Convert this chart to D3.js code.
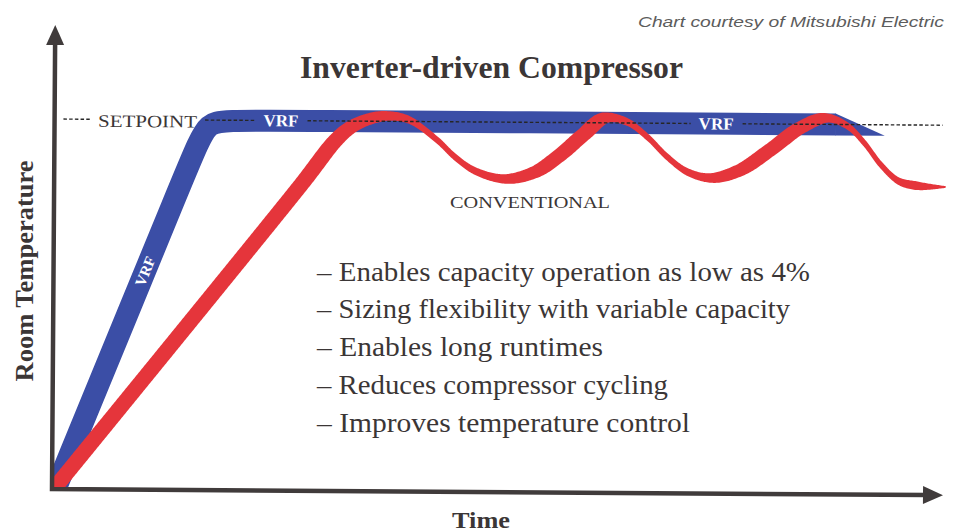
<!DOCTYPE html>
<html>
<head>
<meta charset="utf-8">
<script src="https://cdn.jsdelivr.net/npm/d3@7"></script>
<style>
  html, body { margin: 0; padding: 0; background: #ffffff; }
  svg { display: block; }
</style>
</head>
<body>
<svg id="chart" width="954" height="532"></svg>
<script>
// Elapsed time runs 0–100, room temperature is in % of the setpoint (100 = setpoint).
// VRF (inverter) system: climbs quickly, then holds the setpoint.
const vrfTime = [0.4, 15.5, 17.2, 20.2, 88.0];
const vrfTemp = [0, 90, 100, 100, 100];
const vrfTaperTime = 93.5;

// Conventional on/off system: slower climb, then cycles around the setpoint.
const convTime = [0.2, 27.69, 31.71, 33.42, 35.44, 37.47, 39.94, 43.09, 45.12, 47.39, 50.77, 54.14, 56.95, 59.52,
                  61.98, 64.49, 66.76, 69.03, 71.31, 74.01, 77.23, 80.59, 83.95, 86.87, 89.28, 91.20, 93.10, 95.09, 97.35, 100.51];
const convTemp = [0, 82.35, 94.86, 98.41, 100.59, 101.46, 100.41, 95.05, 90.49, 86.76, 84.65, 86.59, 91.24, 96.68,
                  101.32, 100.27, 96.27, 90.89, 86.89, 85.30, 87.51, 92.97, 98.97, 101.73, 99.62, 95.05, 89.14, 84.84, 83.54, 83.32];

const setpointTemp = 100;
const setpointSpan = [1.0, 100.0];
const setpointLabelTime = 4.9;
const vrfLabelTimes = [25.5, 74.5];
const vrfSlopeLabelTemp = 59;

const benefits = [
  "– Enables capacity operation as low as 4%",
  "– Sizing flexibility with variable capacity",
  "– Enables long runtimes",
  "– Reduces compressor cycling",
  "– Improves temperature control"
];
const benefitWidths = [493, 473, 286, 351, 373];

const titleText = "Inverter-driven Compressor";
const creditText = "Chart courtesy of Mitsubishi Electric";
const yTitle = "Room Temperature";
const xTitle = "Time";

// ---- layout ----
const svg = d3.select("#chart");
const blue = "#3b4ea6", red = "#e5353b", ink = "#3b3636", axisInk = "#403b3b";
const serif = "'Liberation Serif', 'Times New Roman', serif";

const x = d3.scaleLinear().domain([0, 100]).range([52, 940]);
const y = d3.scaleLinear().domain([0, 100]).range([489, 119]);
const xAxisEnd = 100.34;   // arrow tip, time units
const yAxisEnd = 125.4;    // arrow tip, temperature units

const plot = svg.append("g").attr("transform", `rotate(0.4, ${x(0)}, ${y(0)})`);

plot.append("defs").append("clipPath").attr("id", "plotClip")
  .append("rect")
  .attr("x", x(0)).attr("y", y(130))
  .attr("width", x(110) - x(0)).attr("height", y(0) - y(130));

const curves = plot.append("g").attr("clip-path", "url(#plotClip)");

// VRF band
const bandW = 22;
const vrfData = vrfTime.map((t, i) => [t, vrfTemp[i]]);
curves.append("path")
  .attr("d", d3.line().x(d => x(d[0])).y(d => y(d[1])).curve(d3.curveBasis)(vrfData))
  .attr("fill", "none").attr("stroke", blue)
  .attr("stroke-width", bandW).attr("stroke-linecap", "butt");

const tEnd = vrfTime[vrfTime.length - 1];
const yS = y(setpointTemp);
curves.append("path")
  .attr("d", `M${x(tEnd) - 0.5},${yS - bandW / 2}L${x(vrfTaperTime)},${yS + bandW / 2}L${x(tEnd) - 0.5},${yS + bandW / 2}Z`)
  .attr("fill", blue);

// Conventional ribbon: width varies with direction so it reads as a twisting ribbon
const convData = convTime.map((t, i) => [t, convTemp[i]]);
const guide = curves.append("path")
  .attr("d", d3.line().x(d => x(d[0])).y(d => y(d[1])).curve(d3.curveCatmullRom.alpha(0.5))(convData))
  .attr("fill", "none").attr("stroke", "none");
const gNode = guide.node();
const total = gNode.getTotalLength();
const leftSide = [], rightSide = [];
for (let s = 0; s <= total + 0.01; s += 1.2) {
  const sc = Math.min(s, total);
  const p = gNode.getPointAtLength(sc);
  const a = gNode.getPointAtLength(Math.max(sc - 2, 0));
  const b = gNode.getPointAtLength(Math.min(sc + 2, total));
  let tx = b.x - a.x, ty = b.y - a.y;
  const len = Math.hypot(tx, ty) || 1;
  tx /= len; ty /= len;
  const rise = -ty;
  let w = rise > 0 ? 9.5 + 7.5 * rise : 9.5 + 5.5 * rise;
  const tail = total - sc;
  if (tail < 30) w *= 0.15 + 0.85 * (tail / 30);
  const nx = -ty, ny = tx;
  leftSide.push([p.x + nx * w / 2, p.y + ny * w / 2]);
  rightSide.push([p.x - nx * w / 2, p.y - ny * w / 2]);
}
guide.remove();
curves.append("path")
  .attr("d", d3.line()(leftSide.concat(rightSide.reverse())) + "Z")
  .attr("fill", red);

// Labels on the setpoint line
const labels = plot.append("g");
labels.append("text")
  .attr("x", x(setpointLabelTime)).attr("y", yS + 7.5)
  .attr("font-family", serif).attr("font-size", 17.5)
  .attr("textLength", 99).attr("lengthAdjust", "spacingAndGlyphs")
  .attr("fill", ink).text("SETPOINT");

const gaps = [[x(setpointLabelTime) - 8, x(setpointLabelTime) + 99 + 8]];
vrfLabelTimes.forEach(t => {
  const lbl = labels.append("text")
    .attr("x", x(t)).attr("y", yS + 5.8)
    .attr("text-anchor", "middle")
    .attr("font-family", serif).attr("font-size", 17).attr("font-weight", 700)
    .attr("fill", "#ffffff").text("VRF");
  const w = lbl.node().getComputedTextLength();
  gaps.push([x(t) - w / 2 - 8, x(t) + w / 2 + 9]);
});

// VRF label on the rising leg, aligned with the band
{
  const i = 0, j = 2;
  const f = (vrfSlopeLabelTemp - vrfTemp[i]) / (vrfTemp[j] - vrfTemp[i]);
  const t = vrfTime[i] + f * (vrfTime[j] - vrfTime[i]);
  const ang = Math.atan2(y(vrfTemp[j]) - y(vrfTemp[i]), x(vrfTime[j]) - x(vrfTime[i])) * 180 / Math.PI;
  labels.append("text")
    .attr("transform", `translate(${x(t)},${y(vrfSlopeLabelTemp)}) rotate(${ang})`)
    .attr("text-anchor", "middle").attr("dy", "0.35em")
    .attr("font-family", serif).attr("font-size", 15).attr("font-weight", 700)
    .attr("fill", "#ffffff").text("VRF");
}

// Dashed setpoint line, broken around its labels
gaps.sort((a, b) => a[0] - b[0]);
let cursor = x(setpointSpan[0]);
const segs = [];
gaps.forEach(g => { if (g[0] > cursor) segs.push([cursor, g[0]]); cursor = Math.max(cursor, g[1]); });
segs.push([cursor, x(setpointSpan[1])]);
plot.append("g").selectAll("line").data(segs).join("line")
  .attr("x1", d => d[0]).attr("x2", d => d[1])
  .attr("y1", yS).attr("y2", yS)
  .attr("stroke", "#262626").attr("stroke-width", 1.4)
  .attr("stroke-dasharray", "3.5,2.2");

// Axes with arrowheads
const ax = plot.append("g");
const head = 20, half = 9;
ax.append("path")
  .attr("d", `M${x(0)},${y(yAxisEnd) + head - 1}L${x(0)},${y(0)}L${x(xAxisEnd) - head + 1},${y(0)}`)
  .attr("fill", "none").attr("stroke", axisInk).attr("stroke-width", 4.5)
  .attr("stroke-linejoin", "miter").attr("stroke-linecap", "square");
ax.append("path")
  .attr("d", `M${x(0) - half},${y(yAxisEnd) + head}L${x(0)},${y(yAxisEnd)}L${x(0) + half},${y(yAxisEnd) + head}Z`)
  .attr("fill", axisInk);
ax.append("path")
  .attr("d", `M${x(xAxisEnd) - head},${y(0) - half}L${x(xAxisEnd)},${y(0)}L${x(xAxisEnd) - head},${y(0) + half}Z`)
  .attr("fill", axisInk);

// Titles and notes
svg.append("text")
  .attr("x", 944).attr("y", 27).attr("text-anchor", "end")
  .attr("font-family", "'Liberation Sans', Arial, sans-serif").attr("font-style", "italic")
  .attr("font-size", 15.5).attr("fill", "#5c5c5c")
  .attr("textLength", 306).attr("lengthAdjust", "spacingAndGlyphs")
  .text(creditText);

svg.append("text")
  .attr("x", 300).attr("y", 78)
  .attr("font-family", serif).attr("font-size", 31).attr("font-weight", 700)
  .attr("fill", ink).attr("textLength", 383).attr("lengthAdjust", "spacingAndGlyphs")
  .text(titleText);

svg.append("text")
  .attr("x", 450).attr("y", 208)
  .attr("font-family", serif).attr("font-size", 16.5)
  .attr("fill", ink).attr("textLength", 160).attr("lengthAdjust", "spacingAndGlyphs")
  .text("CONVENTIONAL");

svg.append("g").selectAll("text").data(benefits).join("text")
  .attr("x", 317).attr("y", (d, i) => 280.5 + i * 37.8)
  .attr("font-family", serif).attr("font-size", 28)
  .attr("fill", ink)
  .attr("textLength", (d, i) => benefitWidths[i]).attr("lengthAdjust", "spacingAndGlyphs")
  .text(d => d);

svg.append("text")
  .attr("transform", "translate(33,271) rotate(-90)")
  .attr("text-anchor", "middle")
  .attr("font-family", serif).attr("font-size", 25).attr("font-weight", 700)
  .attr("fill", ink).attr("textLength", 221).attr("lengthAdjust", "spacingAndGlyphs")
  .text(yTitle);

svg.append("text")
  .attr("x", 481).attr("y", 528).attr("text-anchor", "middle")
  .attr("font-family", serif).attr("font-size", 24).attr("font-weight", 700)
  .attr("fill", ink).attr("textLength", 58).attr("lengthAdjust", "spacingAndGlyphs")
  .text(xTitle);
</script>
</body>
</html>
